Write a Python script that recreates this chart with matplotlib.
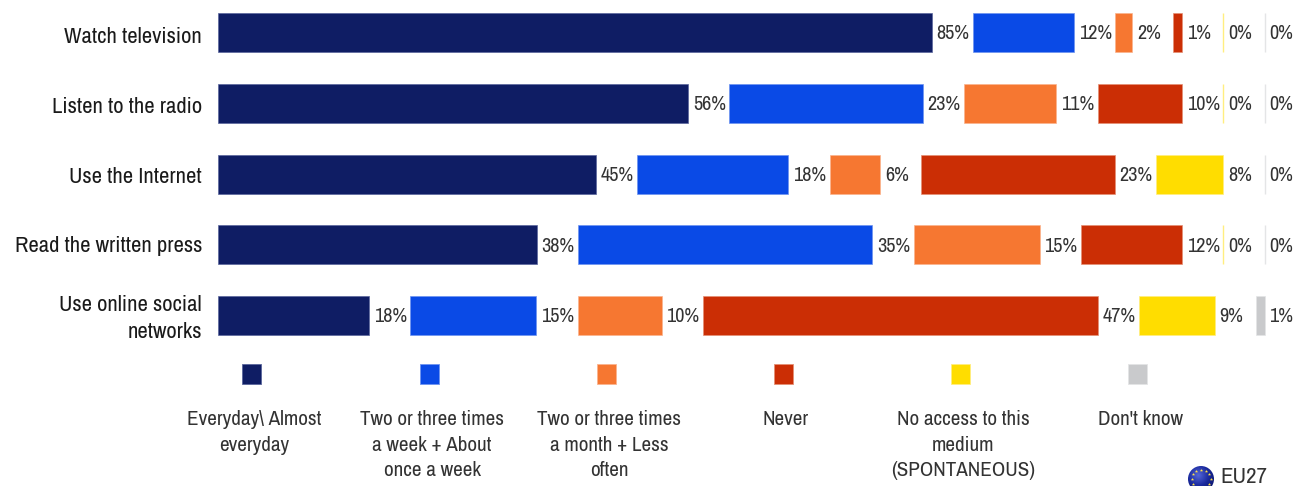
import numpy as np
import matplotlib
matplotlib.use("Agg")
import matplotlib.pyplot as plt
from matplotlib.patches import Rectangle, Circle

plt.rcParams['font.family'] = ['Archivo Narrow', 'Liberation Sans', 'DejaVu Sans']

categories = ["Watch television", "Listen to the radio", "Use the Internet",
              "Read the written press", "Use online social\nnetworks"]
legend_labels = ["Everyday\\ Almost\neveryday", "Two or three times\na week + About\nonce a week",
                 "Two or three times\na month + Less\noften", "Never",
                 "No access to this\nmedium\n(SPONTANEOUS)", "Don't know"]
colors = ["#0F1D64", "#0A4AE6", "#F67731", "#CB2E05", "#FFDD00", "#C9CACC"]
edges = ["#5A669C", "#6E94F0", "#FBB48E", "#E58F75", "#FFEE80", "#E4E5E6"]
everyday = [85, 56, 45, 38, 18]
weekly = [12, 23, 18, 35, 15]
monthly = [2, 11, 6, 15, 10]
never = [1, 10, 23, 12, 47]
no_access = [0, 0, 8, 0, 9]
dont_know = [0, 0, 0, 0, 1]
series = [everyday, weekly, monthly, never, no_access, dont_know]
label_nudge = [4, 4, 3, 1, 3]

W, H = 1296, 486
fig = plt.figure(figsize=(W / 100, H / 100), dpi=100, facecolor='white')

# main axes: x unit = one percent point (8.4 px); y unit = one row (70.75 px)
X0, PX = 217.6, 8.4
GAP = 41.4 / PX
ROW, Y0 = 70.75, 32.6
ax = fig.add_axes([0, 0, 1, 1])
ax.set_xlim(-X0 / PX, (W - X0) / PX)
ax.set_ylim((H - Y0) / ROW, -Y0 / ROW)
ax.axis('off')

ypos = np.arange(len(categories))
left = np.zeros(len(categories))
for s, vals in enumerate(series):
    vals = np.array(vals, float)
    for y, v, l in zip(ypos, vals, left):
        if v > 0:
            ax.barh(y, v, left=l, height=39 / ROW, color=colors[s], edgecolor=edges[s], linewidth=0.5)
        else:
            ax.plot([l, l], [y - 19.5 / ROW, y + 19.5 / ROW], color=edges[s], lw=1.0, solid_capstyle='butt')
        ax.annotate(f"{int(v)}%", (l + v, y), xytext=(3.5, -1), textcoords='offset points',
                    ha='left', va='center', fontsize=14.6, color='#333333')
    left = left + vals + GAP

for y, c, n in zip(ypos, categories, label_nudge):
    ax.text((202 - X0) / PX, y + n / ROW, c, ha='right', va='center', fontsize=16.3,
            color='#1a1a1a', linespacing=1.42)

# legend and flag in pixel coordinates
ov = fig.add_axes([0, 0, 1, 1])
ov.set_xlim(0, W)
ov.set_ylim(H, 0)
ov.axis('off')
ov.patch.set_alpha(0)
lx = [251, 429, 606, 783, 960, 1137]
for x, c, e, t in zip(lx, colors, edges, legend_labels):
    ov.add_patch(Rectangle((x - 9.5, 363.5), 19, 20, facecolor=c, edgecolor=e, linewidth=0.6))
    for i, line in enumerate(t.split('\n')):
        ov.text(x + 3, 419.5 + i * 25.7, line, ha='center', va='center', fontsize=15.2, color='#333333')

cx, cy, r = 1201, 479, 13
grad = np.linspace(0, 1, 64)
gx, gy = np.meshgrid(grad, grad)
d = np.hypot(gx - 0.4, gy - 0.35)
im = ov.imshow(d, extent=(cx - r, cx + r, cy + r, cy - r), cmap=matplotlib.colors.LinearSegmentedColormap.from_list('b', ['#5566D8', '#1A2A9E', '#0A1260']),
               vmin=0, vmax=0.8, zorder=3, aspect='auto')
clip = Circle((cx, cy), r, transform=ov.transData)
im.set_clip_path(clip)
ov.set_xlim(0, W)
ov.set_ylim(H, 0)
ang = np.deg2rad(np.arange(0, 360, 30))
ov.scatter(cx + 9.5 * np.cos(ang), cy + 9.5 * np.sin(ang), marker='*', s=6, c='#FFE24A', linewidths=0, zorder=4)
ov.text(1220, 476.5, "EU27", ha='left', va='center', fontsize=16.5, color='#333333', zorder=4)

fig.savefig("out.png", dpi=100, facecolor='white')
